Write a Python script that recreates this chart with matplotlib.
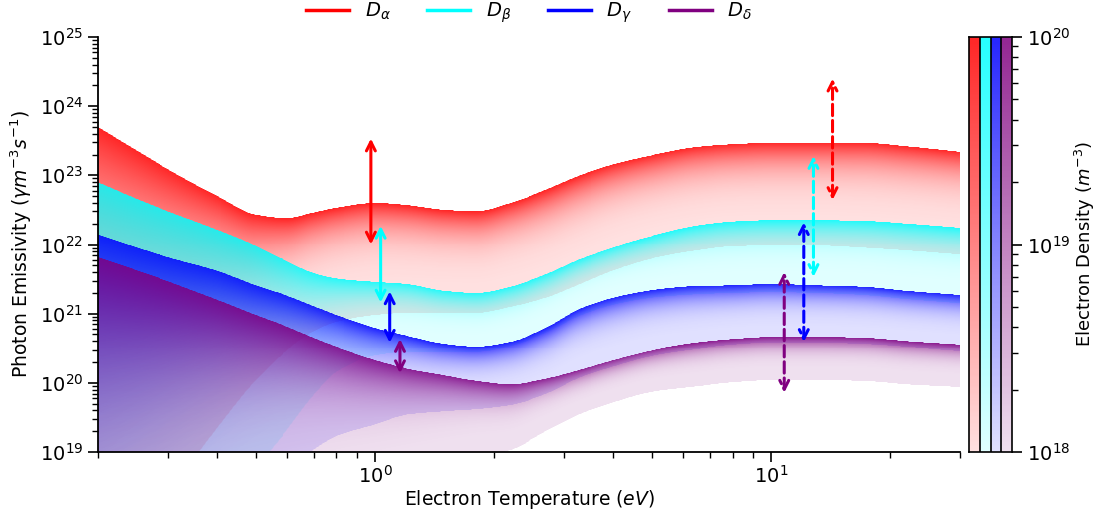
import numpy as np
import matplotlib
matplotlib.use("Agg")
import matplotlib.pyplot as plt
from matplotlib.colors import LinearSegmentedColormap, to_rgb
from matplotlib.lines import Line2D

# ---------------- data (log10 of photon emissivity) ----------------
temperature = [0.2, 0.25, 0.3, 0.4, 0.5, 0.6, 0.7, 0.8, 1.0, 1.2, 1.5, 1.8,
               2.2, 2.7, 3.3, 4.0, 5.0, 6.5, 8.0, 10.0, 13.0, 17.0, 22.0, 30.0]

# upper edge = n_e 1e20, lower edge = n_e 1e18
alpha_top = [23.70, 23.36, 23.09, 22.70, 22.43, 22.38, 22.46, 22.53, 22.60, 22.57, 22.50, 22.48,
             22.60, 22.79, 23.00, 23.16, 23.29, 23.41, 23.45, 23.47, 23.47, 23.47, 23.42, 23.34]
alpha_bot = [16.86, 17.73, 18.38, 19.35, 20.04, 20.47, 20.74, 20.88, 20.98, 21.01, 21.01, 21.01,
             21.10, 21.23, 21.43, 21.63, 21.80, 21.92, 21.98, 21.99, 21.99, 21.96, 21.92, 21.86]
beta_top = [22.90, 22.66, 22.48, 22.21, 21.98, 21.76, 21.59, 21.51, 21.46, 21.43, 21.33, 21.30,
            21.39, 21.57, 21.79, 21.96, 22.12, 22.27, 22.33, 22.35, 22.35, 22.34, 22.30, 22.24]
beta_bot = [15.13, 15.85, 16.57, 17.73, 18.74, 19.32, 19.82, 20.16, 20.40, 20.45, 20.45, 20.45,
            20.53, 20.72, 20.97, 21.13, 21.23, 21.28, 21.30, 21.31, 21.30, 21.27, 21.21, 21.15]
gamma_top = [22.14, 21.96, 21.82, 21.62, 21.41, 21.26, 21.11, 20.98, 20.79, 20.68, 20.56, 20.52,
             20.59, 20.79, 21.07, 21.23, 21.34, 21.40, 21.41, 21.43, 21.41, 21.39, 21.33, 21.27]
gamma_bot = [14.60, 15.60, 16.43, 17.58, 18.31, 18.74, 19.03, 19.23, 19.40, 19.54, 19.59, 19.62,
             19.68, 19.84, 20.08, 20.24, 20.39, 20.49, 20.55, 20.58, 20.58, 20.56, 20.52, 20.46]
delta_top = [21.82, 21.63, 21.47, 21.20, 20.98, 20.81, 20.65, 20.52, 20.33, 20.21, 20.11, 20.03,
             19.98, 20.06, 20.19, 20.33, 20.47, 20.58, 20.63, 20.66, 20.66, 20.65, 20.60, 20.55]
delta_bot = [15.00, 15.50, 15.95, 16.70, 17.25, 17.62, 17.90, 18.10, 18.38, 18.58, 18.78, 18.92,
             19.03, 19.30, 19.55, 19.72, 19.87, 19.95, 20.01, 20.04, 20.04, 20.03, 19.98, 19.94]

line_labels = [r"$D_\alpha$", r"$D_\beta$", r"$D_\gamma$", r"$D_\delta$"]
line_colors = ["red", "cyan", "blue", "purple"]

# arrows (solid near 1 eV, dashed near 10 eV)
arrow_T_solid = [0.977, 1.034, 1.09, 1.157]
arrow_lo_solid = [1.0e22, 1.45e21, 3.8e20, 1.38e20]
arrow_hi_solid = [3.4e23, 1.86e22, 2.1e21, 4.3e20]
arrow_T_dashed = [14.3, 12.8, 12.1, 10.8]
arrow_lo_dashed = [4.4e22, 3.4e21, 3.9e20, 7.2e19]
arrow_hi_dashed = [2.5e24, 1.9e23, 2.1e22, 4.0e21]


def pchip(x, y, xn):
    """Shape-preserving cubic used only to draw the band edges smoothly."""
    x = np.asarray(x, float)
    y = np.asarray(y, float)
    h = np.diff(x)
    d = np.diff(y) / h
    m = np.zeros_like(y)
    for k in range(1, len(y) - 1):
        if d[k - 1] * d[k] > 0:
            w1 = 2 * h[k] + h[k - 1]
            w2 = h[k] + 2 * h[k - 1]
            m[k] = (w1 + w2) / (w1 / d[k - 1] + w2 / d[k])
    m[0] = d[0]
    m[-1] = d[-1]
    idx = np.clip(np.searchsorted(x, xn) - 1, 0, len(h) - 1)
    t = (xn - x[idx]) / h[idx]
    h00 = 2 * t**3 - 3 * t**2 + 1
    h10 = t**3 - 2 * t**2 + t
    h01 = -2 * t**3 + 3 * t**2
    h11 = t**3 - t**2
    return h00 * y[idx] + h10 * h[idx] * m[idx] + h01 * y[idx + 1] + h11 * h[idx] * m[idx + 1]


# ---------------- figure ----------------
W, H = 1099, 518
fig = plt.figure(figsize=(W / 100, H / 100), dpi=100)
ax = fig.add_axes([98 / W, 1 - 452 / H, (960 - 98) / W, (452 - 37) / H])
ax.set_xscale("log")
ax.set_yscale("log")
ax.set_xlim(0.2, 30)
ax.set_ylim(1e19, 1e25)

GAMMA = 4.0
A_LO, A_HI = 0.12, 0.85
FS_TICK = 14
FS_LAB = 13.5


def make_cmap(name, color):
    r, g, b = to_rgb(color)
    return LinearSegmentedColormap.from_list(name, [(r, g, b, A_LO), (r, g, b, A_HI)])


cmaps = [make_cmap(f"c{i}", c) for i, c in enumerate(line_colors)]

gx = np.logspace(np.log10(0.2), np.log10(30), 870)
gy = np.logspace(19, 25, 420)
lgx = np.log10(gx)
lgy = np.log10(gy)
lt = np.log10(temperature)

bands = [(alpha_top, alpha_bot), (beta_top, beta_bot), (gamma_top, gamma_bot), (delta_top, delta_bot)]
for i, (top, bot) in enumerate(bands):
    ttop = pchip(lt, top, lgx)
    tbot = pchip(lt, bot, lgx)
    F = (lgy[:, None] - tbot[None, :]) / (ttop - tbot)[None, :]
    V = np.clip(F, 0, 1) ** GAMMA
    mesh = ax.pcolormesh(gx, gy, V, cmap=cmaps[i], vmin=0, vmax=1,
                         shading="nearest", zorder=1 + i * 0.1)
    poly = ax.fill_between(gx, 10 ** tbot, 10 ** ttop, facecolor="none", edgecolor="none")
    path = poly.get_paths()[0]
    poly.remove()
    mesh.set_clip_path(path, ax.transData)

for T, lo, hi, c in zip(arrow_T_solid, arrow_lo_solid, arrow_hi_solid, line_colors):
    ax.annotate("", xy=(T, hi), xytext=(T, lo),
                arrowprops=dict(arrowstyle="<->", color=c, lw=2.2, shrinkA=0, shrinkB=0,
                                mutation_scale=16), zorder=5)
for T, lo, hi, c in zip(arrow_T_dashed, arrow_lo_dashed, arrow_hi_dashed, line_colors):
    ax.annotate("", xy=(T, hi), xytext=(T, lo),
                arrowprops=dict(arrowstyle="<->", color=c, lw=2.2, linestyle="--",
                                shrinkA=0, shrinkB=0, mutation_scale=16), zorder=5)

ax.spines["top"].set_visible(False)
ax.spines["right"].set_visible(False)
for s in ("left", "bottom"):
    ax.spines[s].set_linewidth(1.3)
ax.tick_params(which="major", length=7, width=1.2, labelsize=FS_TICK)
ax.tick_params(which="minor", length=4, width=1.0)
ax.tick_params(axis="x", which="major", pad=2)
ax.set_xlabel(r"Electron Temperature ($eV$)", fontsize=FS_LAB, labelpad=1)
ax.set_ylabel(r"Photon Emissivity ($\gamma m^{-3}s^{-1}$)", fontsize=FS_LAB, labelpad=4)

handles = [Line2D([0], [0], color=c, lw=2.5) for c in line_colors]
ax.legend(handles, line_labels, loc="center", bbox_to_anchor=(0.5, 1 + 24 / 415),
          ncol=4, frameon=False, fontsize=14, handlelength=2.2, columnspacing=1.9)

# ---------------- colour bar ----------------
cax = fig.add_axes([969 / W, 1 - 452 / H, 43 / W, (452 - 37) / H])
cax.set_yscale("log")
cax.set_xlim(0, 4)
cax.set_ylim(1e18, 1e20)
dens = np.logspace(18, 20, 301)
for i, cm in enumerate(cmaps):
    vals = ((np.log10(dens[:-1]) + np.log10(dens[1:])) / 2 - 18) / 2
    cax.pcolormesh([i, i + 1], dens, vals[:, None], cmap=cm, vmin=0, vmax=1, shading="flat")
for xv in (1, 2, 3):
    cax.axvline(xv, color="black", lw=1.2)
cax.set_xticks([])
cax.yaxis.tick_right()
cax.yaxis.set_label_position("right")
cax.tick_params(which="major", length=7, width=1.2, labelsize=FS_TICK)
cax.tick_params(which="minor", length=4, width=1.0)
for s in cax.spines.values():
    s.set_linewidth(1.2)
cax.set_ylabel(r"Electron Density ($m^{-3}$)", fontsize=13, labelpad=2)

fig.savefig("out.png", dpi=100)
